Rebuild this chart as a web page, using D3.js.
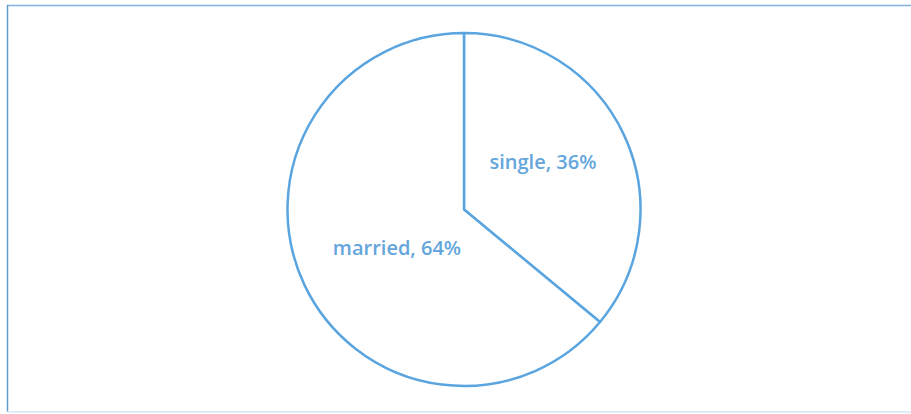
<!DOCTYPE html>
<html>
<head>
<meta charset="utf-8">
<script src="https://cdn.jsdelivr.net/npm/d3@7"></script>
<style>
  html, body { margin: 0; padding: 0; background: #ffffff; }
  svg { display: block; }
</style>
</head>
<body>
<svg id="chart" width="911" height="414"></svg>
<script>
// Marital status shares
const categories = ["single", "married"];
const values = [36, 64];

const width = 911, height = 414;
const cx = 464, cy = 209.5, radius = 176.5;
const stroke = "#5aa5e0";
const textColor = "#64a6dc";

const svg = d3.select("#chart");

// Frame around the chart area (top, left, bottom edges)
const frame = svg.append("g").attr("fill", "none").attr("stroke-width", 1.5);
frame.append("line").attr("x1", 7).attr("y1", 5.5).attr("x2", 911).attr("y2", 5.5)
  .attr("stroke", "#7fb2dc");
frame.append("line").attr("x1", 7.5).attr("y1", 5).attr("x2", 7.5).attr("y2", 412)
  .attr("stroke", "#5c9ccf");
frame.append("line").attr("x1", 7).attr("y1", 412).attr("x2", 911).attr("y2", 412)
  .attr("stroke", "#d6e7f3");

const data = categories.map((c, i) => ({ name: c, value: values[i] }));

const pie = d3.pie().sort(null).value(d => d.value);
const arcs = pie(data);

const arc = d3.arc().innerRadius(0).outerRadius(radius);

const g = svg.append("g").attr("transform", `translate(${cx},${cy})`);

g.selectAll("path.slice")
  .data(arcs)
  .join("path")
  .attr("class", "slice")
  .attr("d", arc)
  .attr("fill", "#ffffff")
  .attr("stroke", stroke)
  .attr("stroke-width", 2.5)
  .attr("stroke-linejoin", "round");

// Data labels: "category, value%"
const labelOffsets = { single: [79, -48], married: [-67, 38] };
g.selectAll("text.label")
  .data(arcs)
  .join("text")
  .attr("class", "label")
  .attr("x", d => labelOffsets[d.data.name][0])
  .attr("y", d => labelOffsets[d.data.name][1])
  .attr("text-anchor", "middle")
  .attr("dominant-baseline", "central")
  .attr("font-family", "'Open Sans', 'Noto Sans', sans-serif")
  .attr("font-size", 20)
  .attr("font-weight", 600)
  .attr("fill", textColor)
  .text(d => `${d.data.name}, ${d.data.value}%`);
</script>
</body>
</html>
